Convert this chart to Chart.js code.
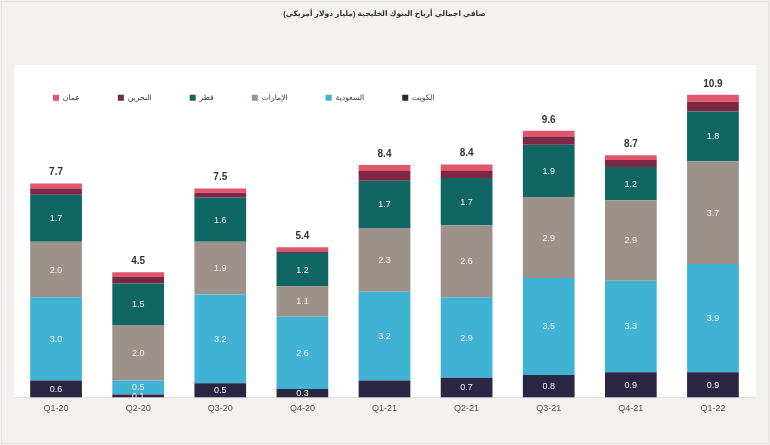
<!DOCTYPE html>
<html><head><meta charset="utf-8">
<script src="https://cdn.jsdelivr.net/npm/chart.js@4.4.1/dist/chart.umd.min.js"></script>
<style>
html,body{margin:0;padding:0;}
body{width:770px;height:445px;background:#f3f1ef;position:relative;overflow:hidden;}
#frame{position:absolute;left:1px;top:1px;width:766px;height:441px;border:1px solid #e4e1de;}
#panel{position:absolute;left:14px;top:65px;width:742px;height:332px;background:#ffffff;}
#wrap{position:absolute;left:0;top:0;width:770px;height:445px;}
</style></head><body>
<div id="frame"></div>
<div id="panel"></div>
<div id="wrap"><canvas id="c" width="770" height="445"></canvas></div>
<script>
const categories = ['Q1-20','Q2-20','Q3-20','Q4-20','Q1-21','Q2-21','Q3-21','Q4-21','Q1-22'];
const kuwait  = [0.6, 0.1, 0.5, 0.3, 0.6, 0.7, 0.8, 0.9, 0.9];
const saudi   = [3.0, 0.5, 3.2, 2.6, 3.2, 2.9, 3.5, 3.3, 3.9];
const uae     = [2.0, 2.0, 1.9, 1.1, 2.3, 2.6, 2.9, 2.9, 3.7];
const qatar   = [1.7, 1.5, 1.6, 1.2, 1.7, 1.7, 1.9, 1.2, 1.8];
const bahrain = [0.22, 0.25, 0.17, 0.05, 0.35, 0.25, 0.30, 0.25, 0.35];
const oman    = [0.18, 0.15, 0.15, 0.15, 0.22, 0.24, 0.20, 0.17, 0.25];
const totals  = [7.7, 4.5, 7.5, 5.4, 8.4, 8.4, 9.6, 8.7, 10.9];
const kuwaitUnlabeled = ['Q1-21'];

const FONT = 'Arial, "Liberation Sans", "DejaVu Sans", sans-serif';

const segLabels = {
  id: 'segLabels',
  afterDatasetsDraw(chart) {
    const ctx = chart.ctx;
    ctx.save();
    ctx.textAlign = 'center';
    ctx.textBaseline = 'middle';
    chart.data.datasets.forEach((ds, di) => {
      if (!ds.showValues) return;
      const meta = chart.getDatasetMeta(di);
      meta.data.forEach((bar, i) => {
        if (ds.unlabeled && ds.unlabeled.includes(categories[i])) return;
        const p = bar.getProps(['x', 'y', 'base'], true);
        ctx.fillStyle = '#eeeeee';
        ctx.font = '9px ' + FONT;
        ctx.fillText(ds.data[i].toFixed(1), p.x, (p.y + p.base) / 2 + 0.5);
      });
    });
    const top = chart.getDatasetMeta(chart.data.datasets.length - 1);
    top.data.forEach((bar, i) => {
      const p = bar.getProps(['x', 'y'], true);
      ctx.fillStyle = '#333333';
      ctx.font = 'bold 10px ' + FONT;
      ctx.fillText(totals[i].toFixed(1), p.x, p.y - 11);
    });
    ctx.restore();
  }
};

new Chart(document.getElementById('c'), {
  type: 'bar',
  data: {
    labels: categories,
    datasets: [
      { label: 'الكويت', data: kuwait, backgroundColor: '#2b2644', showValues: true, unlabeled: kuwaitUnlabeled },
      { label: 'السعودية', data: saudi, backgroundColor: '#40b3d5', showValues: true },
      { label: 'الإمارات', data: uae, backgroundColor: '#9d918b', showValues: true },
      { label: 'قطر', data: qatar, backgroundColor: '#106662', showValues: true },
      { label: 'البحرين', data: bahrain, backgroundColor: '#7e2644' },
      { label: 'عمان', data: oman, backgroundColor: '#e2556f' }
    ]
  },
  options: {
    responsive: false,
    animation: false,
    devicePixelRatio: 1,
    datasets: { bar: { barPercentage: 0.63, categoryPercentage: 1, borderWidth: 0, clip: false } },
    layout: { padding: { left: 15, right: 16, bottom: 25, top: 0 } },
    plugins: {
      title: {
        display: true,
        text: 'صافي اجمالي أرباح البنوك الخليجية (مليار دولار أمريكي)',
        color: '#333333',
        font: { family: FONT, size: 7.5, weight: 'bold' },
        padding: { top: 9, bottom: 38 }
      },
      legend: {
        position: 'top',
        align: 'start',
        reverse: true,
        labels: {
          boxWidth: 6, boxHeight: 6, padding: 38,
          color: '#3a3a3a',
          font: { family: FONT, size: 7.7 }
        }
      },
      tooltip: { enabled: false }
    },
    scales: {
      x: {
        stacked: true,
        grid: { display: false, drawTicks: false, tickLength: 0 },
        border: { display: true, color: '#dddddd' },
        ticks: { color: '#555555', font: { family: FONT, size: 9 }, padding: 6 }
      },
      y: {
        stacked: true, display: false, min: 0, max: 10.29
      }
    }
  },
  plugins: [segLabels]
});
</script>
</body></html>
